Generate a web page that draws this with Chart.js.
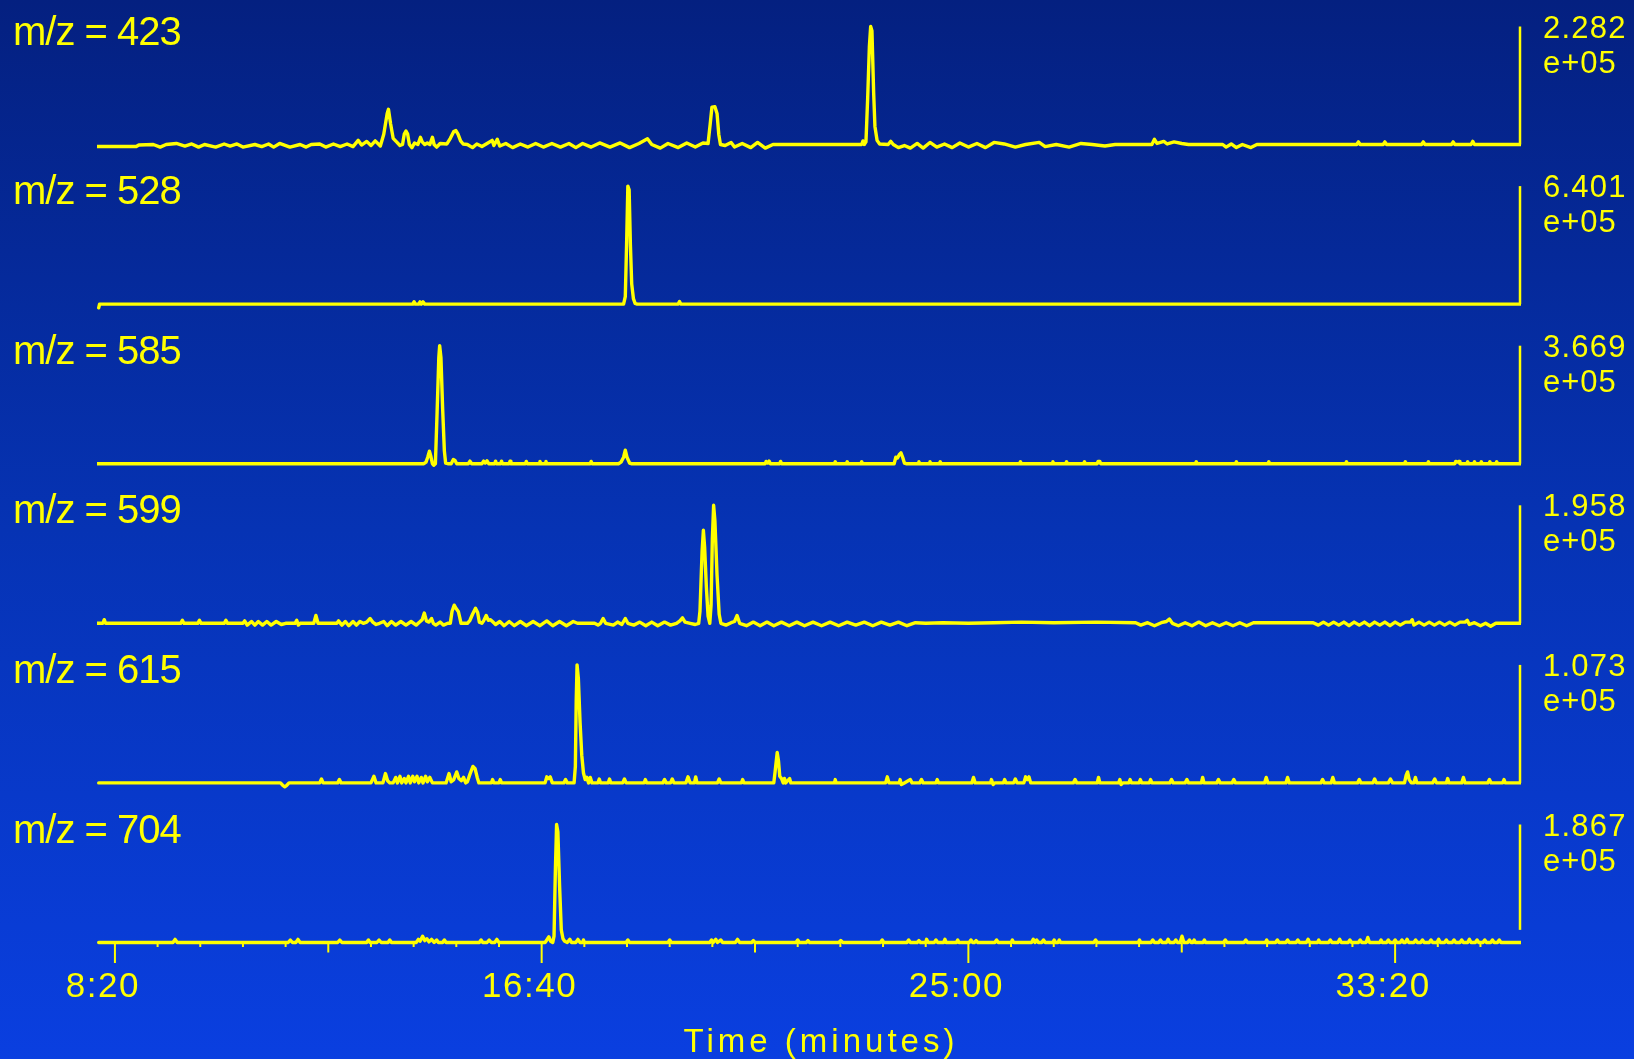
<!DOCTYPE html>
<html>
<head>
<meta charset="utf-8">
<title>Extracted ion chromatograms</title>
<style>
  html, body { margin: 0; padding: 0; background: #062a9c; }
  #frame {
    position: relative;
    width: 1634px;
    height: 1059px;
    background: linear-gradient(to bottom, #042080 0%, #0633b4 50%, #0a3fe0 100%);
  }
  canvas { display: block; }
</style>
<script src="https://cdn.jsdelivr.net/npm/chart.js@4.4.1/dist/chart.umd.min.js"></script>
</head>
<body>
<div id="frame"><canvas id="eic" width="1634" height="1059"></canvas></div>
<script>
// ---- chromatogram data: [retention time (s), intensity (x1e5 counts)] ----
const mz423 = [[479,-0.04],[525,-0.04],[528,-0.01],[545,0.0],[553,-0.05],[560,0.0],[572,0.02],[582,-0.03],[590,0.01],[598,-0.05],[605,0.0],[618,-0.05],[628,0.01],[635,-0.03],[643,0.01],[650,-0.05],[664,0.0],[672,-0.04],[680,0.01],[686,-0.05],[693,0.02],[705,-0.05],[717,0.0],[724,-0.05],[730,0.0],[740,0.01],[747,-0.05],[756,0.01],[764,-0.04],[772,0.01],[779,-0.04],[785,0.08],[789,-0.01],[795,0.06],[800,-0.02],[805,0.07],[811,-0.03],[815,0.2],[819,0.6],[820.5,0.68],[823,0.4],[826,0.12],[830,0.05],[834,-0.02],[837,0.0],[839,0.2],[841,0.26],[843,0.2],[845,0.0],[848,-0.06],[851,0.03],[855,0.0],[858,0.14],[860,0.05],[863,0.0],[866,0.03],[869,0.0],[872,0.14],[874,0.0],[877,-0.05],[881,0.02],[889,0.01],[893,0.12],[897,0.25],[899.5,0.27],[902,0.2],[905,0.07],[908,0.01],[913,0.0],[919,-0.06],[924,0.01],[930,-0.04],[936,0.02],[942,0.08],[944,-0.02],[948,0.1],[951,-0.03],[958,0.02],[966,-0.06],[975,0.01],[984,-0.05],[993,0.02],[1002,-0.05],[1012,0.02],[1022,-0.05],[1032,0.02],[1040,-0.06],[1048,0.02],[1058,-0.05],[1068,0.03],[1080,-0.05],[1092,0.03],[1103,-0.06],[1114,0.02],[1124,0.11],[1129,0.0],[1139,-0.07],[1148,0.02],[1160,-0.06],[1170,0.03],[1180,-0.05],[1189,0.03],[1195,0.02],[1197.5,0.4],[1199.5,0.72],[1203,0.73],[1205.5,0.6],[1207.5,0.2],[1209.5,0.0],[1215,-0.02],[1222,0.04],[1226,-0.05],[1235,0.02],[1245,-0.06],[1253,0.04],[1262,-0.07],[1271,0.0],[1375,0.0],[1376.5,0.07],[1378,0.0],[1380,0.05],[1382,0.9],[1384,1.9],[1385.5,2.282],[1387,2.2],[1389,1.0],[1390.5,0.35],[1393,0.08],[1396,0.01],[1406,0.0],[1409,0.06],[1412,0.0],[1418,-0.06],[1425,-0.02],[1432,-0.07],[1440,0.02],[1447,-0.07],[1455,0.04],[1463,-0.05],[1472,0.01],[1481,-0.06],[1490,0.03],[1500,-0.05],[1510,0.02],[1520,-0.06],[1530,0.04],[1542,0.01],[1555,-0.05],[1567,0.0],[1583,0.04],[1590,-0.04],[1603,0.0],[1618,-0.05],[1632,0.02],[1645,0.0],[1660,-0.03],[1672,0.0],[1715,0.0],[1718,0.1],[1721,0.02],[1729,0.06],[1733,0.01],[1741,0.05],[1750,0.02],[1758,0.0],[1798,0.0],[1802,-0.05],[1808,0.01],[1814,-0.06],[1821,0.0],[1831,-0.06],[1838,0.0],[1955,0.0],[1957,0.05],[1959,0.0],[1986,0.0],[1988,0.05],[1990,0.0],[2031,0.0],[2033,0.05],[2035,0.0],[2066,0.0],[2068,0.05],[2070,0.0],[2089,0.0],[2091,0.06],[2093,0.0],[2148,0.0]];

const mz528 = [[481,-0.2],[482,0],[849,0],[850.5,0.13],[852,0],[856,0],[857.5,0.12],[859,0],[861,0.12],[863,0],[1096,0],[1098,0.4],[1099.5,3.2],[1101,6.401],[1102.5,6.2],[1104,3.2],[1105.5,1.1],[1107.5,0.3],[1109.5,0.04],[1112,0],[1160,0],[1161.5,0.14],[1163,0],[2148,0]];

const mz585 = [[479,0],[862,0],[864.5,0.05],[866.5,0.2],[868.5,0.39],[870,0.25],[872,0.0],[873.5,-0.05],[875.5,0.0],[877.5,1.6],[879.5,3.3],[880.5,3.669],[882,3.3],[884,1.7],[886,0.4],[887.5,0.02],[890,0],[894,0],[896.5,0.13],[898.5,0.1],[900.5,0.0],[914,0],[916,0.08],[918,0],[930,0],[932,0.08],[934,0.02],[936,0.09],[938,0],[945,0],[946,0.08],[947,0],[952,0],[953,0.08],[954,0],[962,0],[963,0.08],[964,0],[981,0],[982,0.07],[983,0],[997,0],[998,0.07],[999,0],[1004,0],[1005,0.07],[1006,0],[1057,0],[1058,0.07],[1059,0],[1090,0],[1093,0.05],[1096,0.2],[1098,0.42],[1100,0.2],[1103,0.02],[1105,0],[1262,0],[1263,0.07],[1265,0.02],[1266.5,0.08],[1268,0],[1279,0],[1280,0.07],[1281,0],[1343,0],[1344,0.06],[1345,0],[1357,0],[1358,0.06],[1359,0],[1374,0],[1375,0.06],[1376,0],[1413,0],[1415,0.2],[1417,0.18],[1419,0.28],[1421,0.34],[1423,0.2],[1425,0.02],[1427,0],[1441,0],[1442,0.06],[1443,0],[1454,0],[1455,0.06],[1456,0],[1466,0],[1467,0.06],[1468,0],[1560,0],[1561,0.06],[1562,0],[1598,0],[1599,0.06],[1600,0],[1614,0],[1615,0.06],[1616,0],[1635,0],[1636,0.06],[1637,0],[1651,0],[1652,0.07],[1654,0.07],[1655,0],[1766,0],[1767,0.06],[1768,0],[1813,0],[1814,0.06],[1815,0],[1851,0],[1852,0.06],[1853,0],[1942,0],[1943,0.06],[1944,0],[2011,0],[2012,0.06],[2013,0],[2038,0],[2039,0.06],[2040,0],[2070,0],[2071,0.07],[2073,0.05],[2075,0.07],[2076,0],[2084,0],[2085,0.06],[2086,0],[2092,0],[2093,0.06],[2094,0],[2100,0],[2101,0.06],[2102,0],[2110,0],[2111,0.06],[2112,0],[2118,0],[2119,0.06],[2120,0],[2148,0]];

const mz599 = [[479,0],[486,0],[487.5,0.06],[489,0],[577,0],[579,0.05],[581,0],[597,0],[599,0.05],[601,0],[628,0],[630,0.05],[632,0],[650,0],[652,0.04],[655,-0.03],[660,0.03],[664,-0.03],[668,0.03],[673,-0.03],[678,0.03],[683,-0.03],[689,0.03],[695,-0.02],[700,0],[711,0],[713,0.05],[715,-0.03],[717,0],[733,0],[735.5,0.13],[738,0],[760,0],[762,0.04],[766,-0.03],[770,0.03],[774,-0.04],[779,0.03],[783,-0.03],[787,0.03],[791,0],[795,0.02],[799,0.08],[802,0.02],[806,-0.02],[810,0],[815,0.03],[819,-0.04],[824,0.03],[829,-0.03],[835,0.03],[841,-0.03],[847,0.03],[853,-0.03],[857,0.02],[860,0.06],[862.5,0.17],[865,0.04],[868,0.02],[871,0.08],[873,0.0],[876,-0.03],[881,0.02],[885,-0.03],[890,0.0],[893,0.0],[895,0.2],[897.5,0.3],[900,0.24],[902.5,0.19],[904,0.1],[905.5,0.0],[913,0],[916,0.05],[919,0.15],[922.5,0.25],[925,0.18],[927,0.02],[930,0.0],[932,0.04],[935,0.13],[937.5,0.05],[940,0.06],[943,0.02],[946,-0.02],[951,0.03],[956,-0.04],[962,0.03],[968,-0.04],[975,0.03],[982,-0.04],[990,0.03],[998,-0.04],[1006,0.04],[1013,-0.04],[1021,0.03],[1029,-0.04],[1037,0.03],[1042,0],[1062,0],[1066,-0.03],[1069,0],[1072,0.08],[1075,0],[1084,-0.03],[1089,0.02],[1094,-0.02],[1098,0.08],[1101,0],[1108,-0.03],[1115,0.02],[1122,-0.04],[1129,0.02],[1136,-0.04],[1144,0.02],[1151,-0.03],[1158,0],[1162,0.04],[1165,0.09],[1168,0.02],[1174,0],[1180,-0.02],[1184,0],[1185.5,0.2],[1188,1.2],[1189.5,1.543],[1191,1.25],[1193,0.6],[1195,0.12],[1197,0],[1198.5,0.3],[1200,1.4],[1201.5,1.958],[1203,1.7],[1205.5,0.8],[1208,0.15],[1210,0],[1216,-0.03],[1222,0.01],[1226,0.03],[1229,0.13],[1232,0],[1240,-0.04],[1248,0.02],[1256,-0.04],[1264,0.02],[1272,-0.04],[1281,0.02],[1290,-0.04],[1299,0.02],[1308,-0.04],[1318,0.02],[1328,-0.04],[1338,0.02],[1348,-0.04],[1358,0.02],[1368,-0.03],[1378,0.02],[1388,-0.04],[1398,0.02],[1408,-0.03],[1418,0.02],[1428,-0.04],[1438,0.01],[1450,0],[1470,0.01],[1500,0],[1530,0.01],[1562,0.02],[1600,0.01],[1650,0.02],[1696,0.01],[1702,-0.03],[1710,0.01],[1718,-0.04],[1726,0.01],[1732,0.03],[1735.5,0.07],[1739,0.0],[1746,-0.04],[1754,0.01],[1762,-0.04],[1770,0.02],[1778,-0.04],[1786,0.01],[1794,-0.04],[1802,0.01],[1810,-0.04],[1818,0.01],[1826,-0.04],[1834,0.01],[1843,0.01],[1904,0.01],[1910,-0.03],[1916,0.02],[1922,-0.03],[1928,0.02],[1934,-0.03],[1940,0.02],[1946,-0.04],[1952,0.02],[1958,-0.03],[1964,0.02],[1970,-0.04],[1976,0.02],[1982,-0.03],[1988,0.02],[1994,-0.04],[2000,0.02],[2006,-0.03],[2012,0.02],[2018,0.02],[2020,0.06],[2022,-0.03],[2028,0.02],[2034,-0.03],[2040,0.02],[2046,-0.03],[2052,0.02],[2058,-0.03],[2064,0.02],[2070,-0.03],[2076,0.02],[2082,0.02],[2084.5,0.05],[2087,-0.02],[2093,0.01],[2100,-0.04],[2106,0.0],[2112,-0.05],[2118,0.0],[2126,0.0],[2148,0.0]];

const mz615 = [[481,0],[694,0],[697,-0.025],[699,-0.035],[701,-0.025],[704,0],[740,0],[742,0.035],[744,0],[761,0],[763,0.03],[765,0],[800,0],[803.5,0.06],[806,0],[814,0],[817,0.085],[819.5,0.02],[822,0.0],[826,0.0],[829,0.05],[831,0],[834,0.06],[836,0],[839,0.04],[841,0],[844,0.06],[846,0],[849,0.06],[851,0.01],[854,0.06],[856,0],[859,0.05],[861,0],[864,0.06],[866,0.01],[869,0.05],[872,0],[888,0],[891.5,0.085],[894,0.01],[897,0.03],[900.5,0.1],[903,0.04],[906,0.02],[908.5,0.05],[911,0],[913,0.01],[916,0.08],[919.5,0.15],[922,0.13],[924.5,0.05],[926.5,0],[941,0],[942.5,0.03],[944,0],[950,0],[951.5,0.03],[953,0],[1004,0],[1006,0.055],[1008,0.04],[1010,0.055],[1012.5,0],[1026,0],[1028,0.03],[1030,0],[1038,0],[1039.5,0.15],[1040.5,0.75],[1041.5,1.073],[1043,0.95],[1045,0.55],[1047,0.25],[1049,0.09],[1051,0.03],[1053,0.05],[1055,0],[1057,0.05],[1059,0],[1066,0],[1067.5,0.035],[1069,0],[1078,0],[1079.5,0.035],[1081,0],[1095,0],[1097,0.035],[1099,0],[1120,0],[1121.5,0.03],[1123,0],[1142,0],[1144,0.03],[1146,0],[1151,0],[1153,0.035],[1155,0],[1169,0],[1171.5,0.055],[1174,0],[1179,0],[1180.5,0.055],[1182,0],[1206,0],[1208,0.035],[1210,0],[1234,0],[1235.5,0.03],[1237,0],[1272,0],[1273.5,0.1],[1276,0.276],[1277.5,0.2],[1279,0.06],[1281,0.04],[1283,0],[1284.5,0.04],[1286,0],[1290.5,0.04],[1292,0],[1343,0],[1344,0.03],[1345,0],[1403,0],[1405,0.055],[1407,0],[1419,0],[1420,0.03],[1421.5,-0.015],[1425,0],[1432,0.03],[1434,0],[1443,0],[1445,0.03],[1447,0],[1462,0],[1463.5,0.03],[1465,0],[1504,0],[1506,0.05],[1508,0],[1526,0],[1527,0.03],[1529,-0.015],[1531,0],[1541,0],[1542.5,0.03],[1544,0],[1553,0],[1555,0.035],[1557,0],[1565,0],[1567,0.055],[1569,0.03],[1571,0.055],[1573,0],[1623,0],[1625,0.03],[1627,0],[1651,0],[1652.5,0.05],[1654,0],[1676,0],[1677.5,0.03],[1679,-0.015],[1681,0],[1688,0],[1689.5,0.03],[1691,0],[1700,0],[1701.5,0.03],[1703,0],[1712,0],[1713.5,0.03],[1715,0],[1736,0],[1738,0.03],[1740,0],[1754,0],[1756,0.03],[1758,0],[1773,0],[1774.5,0.05],[1776,0],[1791,0],[1793,0.03],[1795,0],[1809,0],[1811,0.03],[1813,0],[1847,0],[1849,0.05],[1851,0],[1872,0],[1874,0.05],[1876,0],[1913,0],[1915,0.03],[1917,0],[1925,0],[1927,0.05],[1929,0],[1956,0],[1958,0.03],[1960,0],[1974,0],[1976,0.035],[1978,0],[1992,0],[1994.5,0.035],[1997,0],[2011,0],[2013,0.07],[2014.6,0.1],[2016.5,0.03],[2019,0],[2022,0],[2023.8,0.05],[2025.5,0],[2044,0],[2046.4,0.035],[2048.5,0],[2060,0],[2061.6,0.04],[2063,0],[2078,0],[2080,0.05],[2082,0],[2108.5,0],[2110.5,0.03],[2112.5,0],[2126,0],[2127.6,0.03],[2129,0],[2148,0]];

const mz704 = [[481,0],[568,0],[570.5,0.05],[573,0],[703,0],[705.5,0.04],[708,0],[712,0],[714.5,0.05],[717,0],[761,0],[763.5,0.04],[766,0],[795,0],[797,0.04],[799,0],[807,0],[809.5,0.04],[812,0],[820,0],[822,0.04],[824,0],[853,0],[855.5,0.05],[857.5,0.02],[860.5,0.1],[863,0.03],[865.5,0.06],[868,0.01],[871,0.05],[874,0],[877,0.04],[879,0],[884,0],[886,0.04],[888,0],[927,0],[929,0.04],[931,0],[936,0],[938.5,0.04],[941,0],[945,0],[947.5,0.05],[950,0],[1004,0],[1006,0.04],[1008.5,0.09],[1010.5,0.02],[1013,0.0],[1014.5,0.1],[1016,1.1],[1017.5,1.867],[1019,1.75],[1021,0.9],[1023,0.2],[1025,0.06],[1027,0.02],[1030,0],[1033,0.05],[1035,0],[1040,0],[1042.5,0.05],[1045,0],[1048,0],[1049,0.04],[1050,0],[1099,0],[1101,0.04],[1103,0],[1148,0],[1150,0.04],[1152,0],[1197,0],[1199,0.04],[1201,0.0],[1204,0.05],[1206,0],[1210,0.04],[1212,0],[1227,0],[1229.5,0.05],[1232,0],[1246,0],[1248,0.03],[1250,0],[1298,0],[1300,0.04],[1302,0],[1310,0],[1312,0.03],[1314,0],[1348,0],[1350.5,0.03],[1353,0],[1397,0],[1399,0.04],[1401,0],[1428,0],[1430,0.04],[1432,0],[1440,0],[1442,0.03],[1444,0],[1450,0],[1451,0.05],[1453,0],[1460,0],[1462,0.04],[1464,0],[1471,0],[1472.5,0.05],[1474,0],[1486,0],[1487.5,0.04],[1489,0],[1501,0],[1503,0.04],[1505,0],[1507,0],[1509,0.03],[1511,0],[1531,0],[1533,0.04],[1535,0],[1550,0],[1551.5,0.04],[1553,0],[1574,0],[1576,0.05],[1578,0],[1580,0.04],[1582,0],[1586,0],[1588,0.04],[1590,0],[1599,0],[1600.5,0.04],[1602,0],[1605,0],[1606.5,0.04],[1608,0],[1647,0],[1649,0.04],[1651,0],[1699,0],[1700.5,0.04],[1702,0],[1714,0],[1716,0.04],[1718,0],[1723,0],[1725,0.04],[1727,0],[1732,0],[1734,0.05],[1736,0],[1741,0],[1743,0.04],[1745,0],[1748,0],[1750.3,0.1],[1752.5,0],[1757,0],[1759,0.04],[1761,0],[1763,0],[1764.5,0.04],[1766,0],[1775,0],[1776.5,0.04],[1778,0],[1799,0],[1801,0.04],[1803,0],[1823,0],[1825,0.04],[1827,0],[1848,0],[1849.5,0.04],[1851,0],[1860,0],[1862,0.04],[1864,0],[1872,0],[1874,0.04],[1876,0],[1884,0],[1886,0.04],[1888,0],[1896,0],[1898,0.05],[1900,0],[1909,0],[1910.5,0.04],[1912,0],[1922,0],[1924,0.04],[1926,0],[1933,0],[1935,0.05],[1937,0],[1945,0],[1947,0.04],[1949,0],[1957,0],[1959,0.04],[1961,0],[1966,0],[1968,0.08],[1970,0],[1982,0],[1983.5,0.04],[1985,0],[1990,0],[1992,0.04],[1994,0],[1998,0],[2000,0.04],[2002,0],[2006,0],[2008,0.04],[2010,0],[2012,0],[2014,0.05],[2016,0],[2022,0],[2024,0.04],[2026,0],[2030,0],[2032,0.04],[2034,0],[2040,0],[2042,0.04],[2044,0],[2049,0],[2051,0.05],[2053,0],[2058,0],[2060,0.04],[2062,0],[2067,0],[2069,0.04],[2071,0],[2076,0],[2078,0.04],[2080,0],[2085,0],[2087,0.05],[2089,0],[2094,0],[2096,0.04],[2098,0],[2103,0],[2105,0.04],[2107,0],[2112,0],[2114,0.04],[2116,0],[2120,0],[2122,0.04],[2124,0],[2148,0]];

// ---- panel descriptions (top to bottom) ----
const ions = ['423', '528', '585', '599', '615', '704'];
const traces = [mz423, mz528, mz585, mz599, mz615, mz704];
const fullScale = [2.282, 6.401, 3.669, 1.958, 1.073, 1.867];          // x1e5, top of each intensity bar
const fullScaleText = ['2.282', '6.401', '3.669', '1.958', '1.073', '1.867'];
const exponentText = 'e+05';
const barFloor = [0, 0, 0, 0, 0, 0.2];                                   // x1e5, where each intensity bar starts

// ---- time axis (seconds) ----
const timeTicks = [500, 1000, 1500, 2000];
const timeTickLabels = ['8:20', '16:40', '25:00', '33:20'];
const timeMin = 479, timeMax = 2147.5;
const minorTickStep = 50, midTickStep = 250, majorTickStep = 500;
const minorTickFirst = 500, minorTickLast = 2100;

// ---- look ----
const YELLOW = '#ffff00';
const FONT = "'Liberation Sans', Arial, Helvetica, sans-serif";
const X_AXIS_HEIGHT = 110.5;   // px reserved under the bottom trace
const FULL_PX = 118;           // px from baseline to full scale
const BELOW_PX = 6;            // px kept below each baseline
const PANEL_PX = 159.6;        // px per panel
const TOP_PANEL_PX = 150.5;    // first panel sits against the top edge

const panelHeight = (i) => (i === 0 ? TOP_PANEL_PX : PANEL_PX);

const scales = {
  x: {
    type: 'linear',
    position: 'bottom',
    min: timeMin,
    max: timeMax,
    grid: { display: false, drawTicks: false },
    border: { display: false },
    afterBuildTicks: (scale) => { scale.ticks = timeTicks.map((v) => ({ value: v })); },
    afterFit: (scale) => { scale.height = X_AXIS_HEIGHT; },
    ticks: {
      autoSkip: false,
      maxRotation: 0,
      minRotation: 0,
      padding: 18,
      labelOffset: -12,
      color: YELLOW,
      font: { family: FONT, size: 35 },
      callback: (value) => timeTickLabels[timeTicks.indexOf(value)]
    }
  }
};
// stacked vertical scales fill from the bottom up, so register the last panel first
for (let i = ions.length - 1; i >= 0; i--) {
  const h = panelHeight(i);
  scales['y' + i] = {
    type: 'linear',
    position: 'left',
    stack: 'ions',
    stackWeight: h / PANEL_PX,
    display: false,
    min: -BELOW_PX / FULL_PX * fullScale[i],
    max: (h - BELOW_PX) / FULL_PX * fullScale[i]
  };
}

const datasets = traces.map((trace, i) => ({
  label: 'm/z = ' + ions[i],
  data: trace.map(([t, v]) => ({ x: t, y: v })),
  xAxisID: 'x',
  yAxisID: 'y' + i,
  borderColor: YELLOW,
  borderWidth: 3.4,
  borderJoinStyle: 'round',
  borderCapStyle: 'round',
  pointRadius: 0,
  tension: 0,
  fill: false
}));

function putText(ctx, text, x, y, size, spacing, align) {
  ctx.font = size + 'px ' + FONT;
  ctx.letterSpacing = spacing + 'px';
  ctx.textAlign = align || 'left';
  ctx.textBaseline = 'alphabetic';
  ctx.fillText(text, x, y);
}

// Intensity bars, ion labels, hanging time ticks and the axis title.
const chromatogramDecor = {
  id: 'chromatogramDecor',
  beforeDraw(chart) { chart.ctx.letterSpacing = '1.5px'; },
  beforeDatasetsDraw(chart) { chart.ctx.letterSpacing = '0px'; },
  afterDraw(chart) {
    const { ctx } = chart;
    const x = chart.scales.x;
    ctx.save();
    ctx.strokeStyle = YELLOW;
    ctx.fillStyle = YELLOW;
    ctx.lineCap = 'butt';

    // time ticks hanging from the bottom trace
    const yBottom = chart.scales['y' + (ions.length - 1)].getPixelForValue(0);
    ctx.lineWidth = 2;
    for (let t = minorTickFirst; t <= minorTickLast; t += minorTickStep) {
      const px = x.getPixelForValue(t);
      const len = t % majorTickStep === 0 ? 20.5 : (t % midTickStep === 0 ? 10 : 4.5);
      ctx.beginPath();
      ctx.moveTo(px, yBottom);
      ctx.lineTo(px, yBottom + len);
      ctx.stroke();
    }

    ions.forEach((ion, i) => {
      const ys = chart.scales['y' + i];
      const base = ys.getPixelForValue(0);
      const barX = x.getPixelForValue(timeMax) - 1;
      ctx.lineWidth = 2.5;
      ctx.beginPath();
      ctx.moveTo(barX, ys.getPixelForValue(barFloor[i]));
      ctx.lineTo(barX, ys.getPixelForValue(fullScale[i]));
      ctx.stroke();

      putText(ctx, 'm/z = ' + ion, 13, base - 100, 40, -1);
      putText(ctx, fullScaleText[i], barX + 23, base - 107, 31, 1.2);
      putText(ctx, exponentText, barX + 23, base - 72, 31, 1);
    });

    putText(ctx, 'Time (minutes)', (x.left + x.right) / 2 + 12, 1051.5, 33, 4, 'center');
    ctx.restore();
  }
};

new Chart(document.getElementById('eic'), {
  type: 'line',
  data: { datasets },
  options: {
    responsive: false,
    animation: false,
    devicePixelRatio: 1,
    layout: { padding: { left: 97, right: 113, top: 0, bottom: 0 } },
    plugins: { legend: { display: false }, tooltip: { enabled: false }, title: { display: false } },
    scales
  },
  plugins: [chromatogramDecor]
});
</script>
</body>
</html>
